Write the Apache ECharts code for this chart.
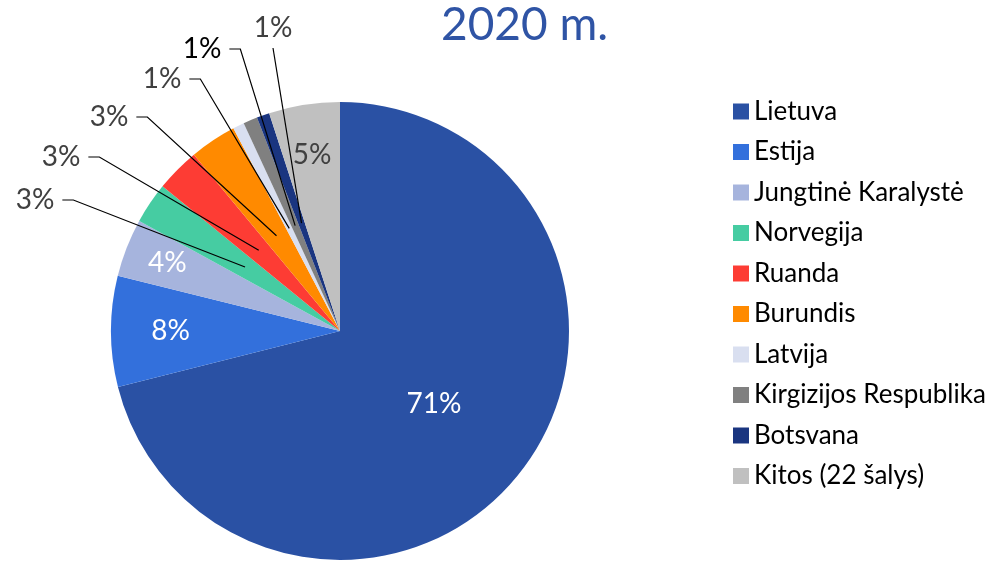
<!DOCTYPE html>
<html><head><meta charset="utf-8">
<script src="https://cdn.jsdelivr.net/npm/echarts@6/dist/echarts.min.js"></script>
<style>html,body{margin:0;padding:0;background:#fff}#c{width:1000px;height:563px}</style>
</head><body><div id="c"></div>
<script>
// ---- data ----
const titleText = '2020 m.';
const categories = ['Lietuva','Estija','Jungtinė Karalystė','Norvegija','Ruanda','Burundis','Latvija','Kirgizijos Respublika','Botsvana','Kitos (22 šalys)'];
const values = [71.0, 7.8, 4.1, 2.9, 3.1, 3.3, 0.8, 1.0, 0.9, 5.0];

// ---- styles / layout ----
const colors = ['#2A51A4','#3370DC','#A6B4DD','#46CCA2','#FD3C34','#FF8A00','#D9DFF0','#808080','#1A3580','#C0C0C0'];
const labelColors = ['#FFFFFF','#FFFFFF','#FFFFFF','#404040','#404040','#404040','#404040','#000000','#404040','#404040'];
const FONT = 'Lato';
const CX = 340, CY = 331, R = 229;
const insideFrac = {0:0.52, 1:0.74, 2:0.81, 9:0.78};
const outsidePos = {3:[35,200], 4:[61,157], 5:[109,117], 6:[162,79], 7:[202,49], 8:[273,28]};
const lineFromBottom = {8:true};

const total = values.reduce((a,b)=>a+b,0);
const midAngles = [];
(function(){ let acc=0; values.forEach(v=>{ midAngles.push((acc+v/2)/total*2*Math.PI); acc+=v; }); })();
const isInside = i => insideFrac[i] !== undefined;

const labelLayout = function(params){
  const i = params.dataIndex, t = midAngles[i];
  if (isInside(i)) {
    const f = insideFrac[i];
    return { x: CX + f*R*Math.sin(t), y: CY - f*R*Math.cos(t), align:'center', verticalAlign:'middle' };
  }
  const pos = outsidePos[i];
  const p0 = [CX + 0.5*R*Math.sin(t), CY - 0.5*R*Math.cos(t)];
  const w = params.labelRect.width, h = params.labelRect.height;
  let pts;
  if (lineFromBottom[i]) {
    const p2 = [pos[0], pos[1] + h/2 + 6];
    pts = [p0, p2, p2];
  } else {
    const p2 = [pos[0] + w/2 + 8, pos[1]];
    const p1 = [p2[0] + 11, pos[1]];
    pts = [p0, p1, p2];
  }
  return { x:pos[0], y:pos[1], align:'center', verticalAlign:'middle', labelLinePoints:pts };
};

const fmt = p => Math.round(p.percent) + '%';

const chart = echarts.init(document.getElementById('c'));
chart.setOption({
  animation:false,
  backgroundColor:'#fff',
  title:{ text:titleText, left:441, top:2, padding:0,
    textStyle:{ fontFamily:FONT, fontSize:46, fontWeight:'normal', color:'#2F54A5' } },
  legend:{ orient:'vertical', left:733, top:97, padding:0, icon:'rect', itemWidth:16, itemHeight:16, itemGap:11.5,
    data:categories,
    textStyle:{ fontFamily:FONT, fontSize:26, lineHeight:29, color:'#000' } },
  series:[{
    // visible slices + inside labels
    type:'pie', z:2, center:[CX,CY], radius:[0,R], startAngle:90, clockwise:true,
    avoidLabelOverlap:false,
    data: categories.map((n,i)=>({ name:n, value:values[i], itemStyle:{color:colors[i]},
        label:{ show:isInside(i), position:'inside', color:labelColors[i] } })),
    label:{ fontFamily:FONT, fontSize:28, formatter:fmt },
    labelLine:{ show:false },
    labelLayout:labelLayout
  },{
    // transparent overlay carrying the outside labels and leader lines
    type:'pie', z:5, center:[CX,CY], radius:[0,R], startAngle:90, clockwise:true,
    silent:true, avoidLabelOverlap:false, emphasis:{disabled:true},
    data: categories.map((n,i)=>({ name:n, value:values[i], itemStyle:{color:'rgba(0,0,0,0)'},
        label:{ show:!isInside(i), position:'outside', color:labelColors[i] },
        labelLine:{ show:!isInside(i) } })),
    label:{ fontFamily:FONT, fontSize:28, formatter:fmt },
    labelLine:{ lineStyle:{ color:'#000', width:1.2 } },
    labelLayout:labelLayout
  }]
});
</script></body></html>
